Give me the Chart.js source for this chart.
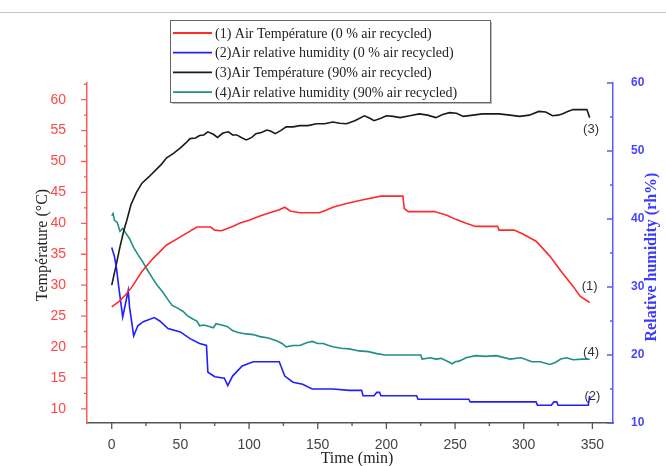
<!DOCTYPE html>
<html>
<head>
<meta charset="utf-8">
<script src="https://cdn.jsdelivr.net/npm/chart.js@4"></script>
<style>
  html, body { margin: 0; padding: 0; background: #fff; }
</style>
</head>
<body>
<canvas id="dryerChart" width="666" height="466"></canvas>
<script>
// (1) air temperature, 0 % air recycled  (left axis)
const airTempTime0 = [0, 5, 10, 15, 22, 30, 40, 50, 62, 72, 75, 80, 88, 93, 100, 108, 115, 122, 126, 130, 137, 151, 156, 161, 171, 183, 196, 212, 213, 216, 235, 244, 251, 258, 265, 281, 282, 293, 299, 309, 319, 328, 336, 341, 348];
const airTemp0 = [26.5, 27.3, 28.4, 29.8, 32.2, 34.3, 36.5, 37.8, 39.4, 39.4, 38.9, 38.8, 39.5, 40.0, 40.5, 41.2, 41.7, 42.2, 42.6, 42.0, 41.7, 41.7, 42.1, 42.6, 43.2, 43.8, 44.4, 44.4, 42.4, 41.9, 41.9, 41.3, 40.6, 40.0, 39.5, 39.5, 38.9, 38.9, 38.3, 37.1, 34.7, 32.0, 29.8, 28.2, 27.2];

// (2) air relative humidity, 0 % air recycled  (right axis)
const rhTime0 = [0, 2, 3.5, 5, 8, 10, 12, 13, 14.5, 16, 19, 23, 31, 35, 41, 50, 57, 64, 69, 70, 72, 75, 82, 84.5, 88, 95, 103, 110, 122, 126, 132, 139, 146, 161, 173, 182, 183, 191, 193, 195, 196, 222, 223, 260, 261, 309, 310, 320, 322, 324, 325, 347, 348];
const rh0 = [35.8, 34.5, 32.7, 30.2, 25.6, 27.5, 29.5, 27.0, 24.9, 22.8, 24.3, 24.9, 25.5, 25.0, 23.9, 23.4, 22.4, 21.7, 21.4, 17.5, 17.2, 16.8, 16.6, 15.5, 16.9, 18.4, 19.0, 19.0, 19.0, 16.9, 16.0, 15.7, 15.0, 15.0, 14.8, 14.8, 14.0, 14.0, 14.5, 14.5, 14.0, 14.0, 13.5, 13.5, 13.1, 13.1, 12.6, 12.6, 13.1, 13.1, 12.6, 12.6, 14.0];

// (3) air temperature, 90 % air recycled  (left axis)
const airTempTime90 = [0, 3, 6, 9, 11, 14, 18, 22, 27, 32, 36, 40, 45, 50, 54, 57, 61, 64, 67, 70, 74, 77, 81, 85, 88, 91, 95, 98, 102, 105, 109, 113, 116, 119, 123, 127, 132, 137, 143, 149, 155, 161, 166, 171, 177, 184, 188, 191, 196, 200, 205, 210, 217, 224, 230, 236, 241, 246, 251, 256, 263, 270, 276, 282, 290, 297, 304, 311, 316, 321, 325, 328, 332, 336, 341, 346, 348];
const airTemp90 = [30.0, 33.0, 36.2, 39.0, 40.5, 43.0, 45.0, 46.5, 47.5, 48.6, 49.5, 50.6, 51.3, 52.2, 53.0, 53.7, 53.8, 54.2, 54.3, 54.8, 54.4, 53.9, 54.6, 54.8, 54.3, 54.3, 53.8, 53.5, 53.9, 54.5, 54.7, 55.1, 54.9, 54.5, 55.0, 55.6, 55.6, 55.8, 55.8, 56.1, 56.1, 56.4, 56.2, 56.1, 56.6, 57.4, 57.0, 56.6, 57.0, 57.4, 57.3, 57.1, 57.4, 57.7, 57.5, 57.1, 57.6, 57.9, 57.8, 57.3, 57.5, 57.7, 57.7, 57.7, 57.5, 57.3, 57.5, 58.1, 58.0, 57.4, 57.5, 57.7, 58.1, 58.4, 58.4, 58.4, 57.1];

// (4) air relative humidity, 90 % air recycled  (right axis)
const rhTime90 = [0, 1, 2, 4, 6, 8, 10, 13, 16, 19, 22.6, 26, 30, 33, 37, 40, 44, 48, 52, 55, 59, 62, 64, 67, 71, 74, 76, 80, 84, 88, 92, 98, 103, 108, 114, 120, 124, 127, 132, 137, 142, 146, 150, 154, 158, 161, 167, 173, 180, 187, 193, 199, 205, 225, 226, 232, 236, 240, 248, 250, 253, 258, 265, 272, 280, 290, 298, 306, 312, 319, 323, 327, 331, 336, 343, 348];
const rh90 = [40.5, 40.8, 39.8, 39.5, 38.2, 38.6, 38.0, 37.1, 35.8, 34.8, 33.7, 32.5, 31.2, 30.3, 29.3, 28.4, 27.3, 26.9, 26.4, 25.8, 25.3, 25.0, 24.3, 24.4, 24.2, 24.0, 24.6, 24.4, 24.2, 23.6, 23.3, 23.1, 23.0, 22.7, 22.5, 22.1, 21.7, 21.2, 21.4, 21.4, 21.8, 22.0, 21.7, 21.7, 21.4, 21.2, 21.0, 20.9, 20.6, 20.5, 20.2, 20.0, 20.0, 20.0, 19.4, 19.6, 19.4, 19.5, 18.7, 19.0, 19.1, 19.6, 19.9, 19.8, 19.9, 19.4, 19.6, 19.0, 19.0, 18.6, 18.9, 19.4, 19.6, 19.3, 19.4, 19.4];

const seriesLabels = [
    '(1) Air Température (0 % air recycled)',
    '(2)Air relative humidity (0 % air recycled)',
    '(3)Air Température (90% air recycled)',
    '(4)Air relative humidity (90% air recycled)'
];
const seriesColors = ['#ff2a2a', '#1f1fff', '#1a1a1a', '#1f8f85'];
const curveTags = ['(1)', '(2)', '(3)', '(4)'];

const timeTicks = [0, 50, 100, 150, 200, 250, 300, 350];
const timeMinor = [25, 75, 125, 175, 225, 275, 325];
const tempTicks = [10, 15, 20, 25, 30, 35, 40, 45, 50, 55, 60];
const tempMinor = [12.5, 17.5, 22.5, 27.5, 32.5, 37.5, 42.5, 47.5, 52.5, 57.5, 62.5];
const rhTicks = [10, 20, 30, 40, 50, 60];
const rhMinor = [15, 25, 35, 45, 55];

const toPoints = (xs, ys) => xs.map((x, i) => ({ x: x, y: ys[i] }));

const makeSet = (i, xs, ys, axis) => ({
    label: seriesLabels[i],
    data: toPoints(xs, ys),
    yAxisID: axis,
    borderColor: seriesColors[i],
    borderWidth: 1.6,
    pointRadius: 0,
    tension: 0,
    fill: false
});

// major + minor tick marks, origin style
const tickMarks = {
    id: 'tickMarks',
    afterDraw(chart) {
        const ctx = chart.ctx;
        const area = chart.chartArea;
        const sx = chart.scales.x, sl = chart.scales.yT, sr = chart.scales.yH;
        ctx.save();
        ctx.lineWidth = 1.3;
        ctx.strokeStyle = '#555';
        ctx.beginPath();
        timeTicks.forEach(v => { const p = sx.getPixelForValue(v); ctx.moveTo(p, area.bottom); ctx.lineTo(p, area.bottom + 6); });
        timeMinor.forEach(v => { const p = sx.getPixelForValue(v); ctx.moveTo(p, area.bottom); ctx.lineTo(p, area.bottom + 3); });
        ctx.stroke();
        ctx.strokeStyle = '#ff5a5a';
        ctx.beginPath();
        tempTicks.forEach(v => { const p = sl.getPixelForValue(v); ctx.moveTo(area.left, p); ctx.lineTo(area.left - 6, p); });
        tempMinor.forEach(v => { const p = sl.getPixelForValue(v); ctx.moveTo(area.left, p); ctx.lineTo(area.left - 3, p); });
        ctx.stroke();
        ctx.strokeStyle = '#5a5aff';
        ctx.beginPath();
        rhTicks.forEach(v => { const p = sr.getPixelForValue(v); ctx.moveTo(area.right, p); ctx.lineTo(area.right - 6, p); });
        rhMinor.forEach(v => { const p = sr.getPixelForValue(v); ctx.moveTo(area.right, p); ctx.lineTo(area.right - 3, p); });
        ctx.stroke();
        ctx.restore();
    }
};

// axis titles, legend box, curve numbers
const decorations = {
    id: 'decorations',
    beforeDraw(chart) {
        const ctx = chart.ctx;
        ctx.save();
        ctx.strokeStyle = '#c8c8c8';
        ctx.lineWidth = 1;
        ctx.beginPath();
        ctx.moveTo(0, 12.5);
        ctx.lineTo(666, 12.5);
        ctx.stroke();
        ctx.restore();
    },
    afterDraw(chart) {
        const ctx = chart.ctx;
        const sx = chart.scales.x, sl = chart.scales.yT, sr = chart.scales.yH;
        ctx.save();
        ctx.textAlign = 'center';
        ctx.textBaseline = 'middle';

        ctx.fillStyle = '#222';
        ctx.font = '16px "Liberation Serif"';
        ctx.fillText('Time (min)', 357, 459);
        ctx.save();
        ctx.translate(43, 245);
        ctx.rotate(-Math.PI / 2);
        ctx.fillText('Température (°C)', 0, 0);
        ctx.restore();

        ctx.save();
        ctx.fillStyle = '#3a3aff';
        ctx.font = 'bold 16px "Liberation Serif"';
        ctx.translate(652, 257);
        ctx.rotate(-Math.PI / 2);
        ctx.fillText('Relative humidity (rh%)', 0, 0);
        ctx.restore();

        // curve numbers
        ctx.fillStyle = '#333';
        ctx.font = '13px "Liberation Sans"';
        ctx.fillText(curveTags[2], sx.getPixelForValue(349), sl.getPixelForValue(55.2));
        ctx.fillText(curveTags[0], sx.getPixelForValue(348), sl.getPixelForValue(29.8));
        ctx.fillText(curveTags[3], sx.getPixelForValue(349), sr.getPixelForValue(20.4));
        ctx.fillText(curveTags[1], sx.getPixelForValue(350), sr.getPixelForValue(13.9));

        // legend
        const bx = 170, by = 20, bw = 320, bh = 82;
        ctx.fillStyle = '#fff';
        ctx.fillRect(bx, by, bw, bh);
        ctx.strokeStyle = '#bbb';
        ctx.lineWidth = 2;
        ctx.beginPath();
        ctx.moveTo(bx + bw + 1, by + 2);
        ctx.lineTo(bx + bw + 1, by + bh + 1);
        ctx.lineTo(bx + 2, by + bh + 1);
        ctx.stroke();
        ctx.strokeStyle = '#666';
        ctx.lineWidth = 1;
        ctx.strokeRect(bx + 0.5, by + 0.5, bw, bh);
        ctx.textAlign = 'left';
        ctx.font = '14px "Liberation Serif"';
        seriesLabels.forEach((txt, i) => {
            const y = by + 13 + i * 19.7;
            ctx.strokeStyle = seriesColors[i];
            ctx.lineWidth = 1.8;
            ctx.beginPath();
            ctx.moveTo(bx + 3, y);
            ctx.lineTo(bx + 42, y);
            ctx.stroke();
            ctx.fillStyle = '#222';
            ctx.fillText(txt, bx + 45, y + 1);
        });
        ctx.restore();
    }
};

const data = {
    datasets: [
        makeSet(0, airTempTime0, airTemp0, 'yT'),
        makeSet(1, rhTime0, rh0, 'yH'),
        makeSet(2, airTempTime90, airTemp90, 'yT'),
        makeSet(3, rhTime90, rh90, 'yH')
    ]
};

const config = {
    type: 'line',
    data: data,
    options: {
        responsive: false,
        animation: false,
        devicePixelRatio: 1,
        layout: { padding: { top: 83, left: 0, right: 0, bottom: 0 } },
        plugins: { legend: { display: false }, tooltip: { enabled: false } },
        scales: {
            x: {
                type: 'linear',
                min: -18,
                max: 365,
                afterBuildTicks: ax => { ax.ticks = timeTicks.map(v => ({ value: v })); },
                afterFit: ax => { ax.height = 43; },
                grid: { display: false },
                border: { color: '#555', width: 1.5 },
                ticks: { color: '#444', padding: 6, maxRotation: 0, autoSkip: false, font: { family: 'Liberation Sans', size: 14 } }
            },
            yT: {
                type: 'linear',
                position: 'left',
                min: 7.7,
                max: 62.7,
                afterBuildTicks: ax => { ax.ticks = tempTicks.map(v => ({ value: v })); },
                afterFit: ax => { ax.width = 87; },
                grid: { display: false },
                border: { color: '#ff5a5a', width: 1.5 },
                ticks: { color: '#ff4646', padding: 13, autoSkip: false, font: { family: 'Liberation Sans', size: 14 } }
            },
            yH: {
                type: 'linear',
                position: 'right',
                min: 10,
                max: 60,
                afterBuildTicks: ax => { ax.ticks = rhTicks.map(v => ({ value: v })); },
                afterFit: ax => { ax.width = 53; },
                grid: { display: false },
                border: { color: '#5a5aff', width: 1.5 },
                ticks: { color: '#4646ff', padding: 10, autoSkip: false, font: { family: 'Liberation Sans', size: 12, weight: 'bold' } }
            }
        }
    },
    plugins: [tickMarks, decorations]
};

const dryerChart = new Chart(document.getElementById('dryerChart'), config);
</script>
</body>
</html>
